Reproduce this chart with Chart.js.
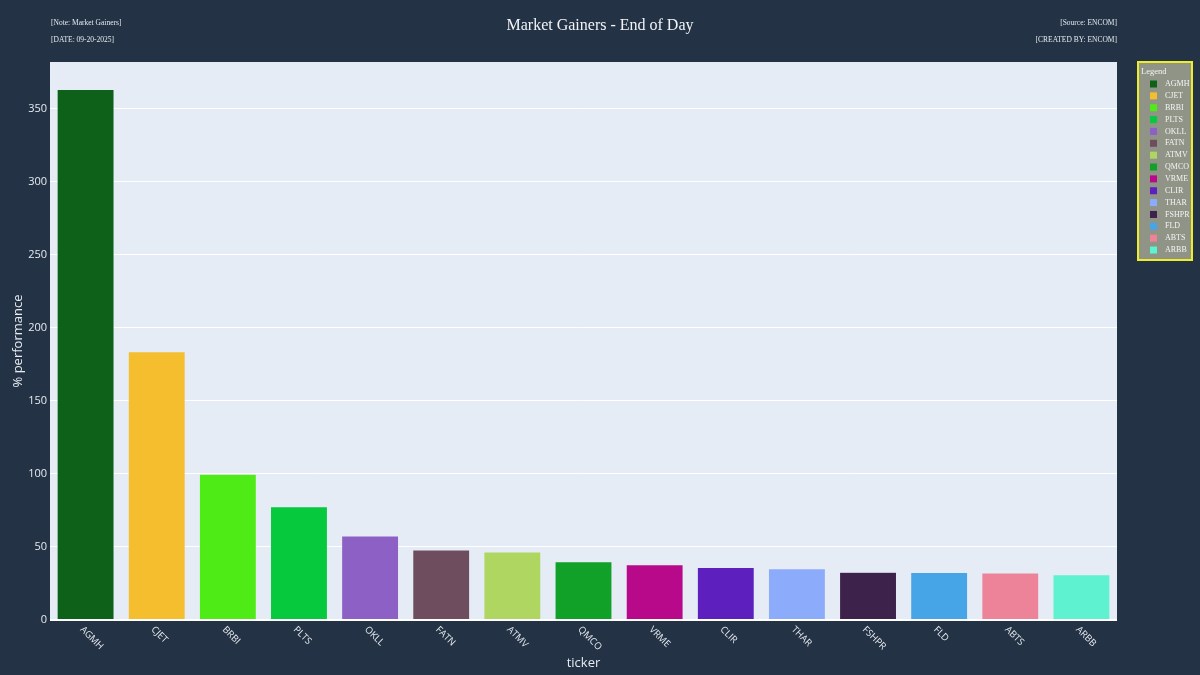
<!DOCTYPE html>
<html>
<head>
<meta charset="utf-8">
<title>Market Gainers - End of Day</title>
<script src="https://cdn.jsdelivr.net/npm/chart.js@4.4.1/dist/chart.umd.min.js"></script>
<style>
  html, body { margin: 0; padding: 0; background: #233245; }
  #wrap { width: 1200px; height: 675px; }
</style>
</head>
<body>
<div id="wrap"><canvas id="bars" width="1200" height="675"></canvas></div>
<script>
// values
const tickers = ["AGMH","CJET","BRBI","PLTS","OKLL","FATN","ATMV","QMCO","VRME","CLIR","THAR","FSHPR","FLD","ABTS","ARBB"];
const gains = [363.2, 183.6, 99.7, 77.6, 57.5, 47.9, 46.5, 39.9, 37.9, 35.9, 35.0, 32.7, 32.6, 32.2, 30.9];
const barColors = ["#0d6119","#f5be2f","#4feb16","#06c93d","#8d60c6","#6e4e5e","#aed660","#11a028","#b8098a","#5d20be","#8cabfa","#3d224b","#45a5e6","#ec8399","#5ef2d1"];
const yTop = 382;
const noteLeft = ["[Note: Market Gainers]", "[DATE: 09-20-2025]"];
const noteRight = ["[Source: ENCOM]", "[CREATED BY: ENCOM]"];

const pageBg = "#233245";
const plotBg = "#e5ecf6";
const inkLight = "#e6ebf0";

// background + header + custom rotated x labels + legend box
const decor = {
  id: "decor",
  beforeDraw(chart) {
    const c = chart.ctx, a = chart.chartArea;
    c.save();
    c.fillStyle = pageBg;
    c.fillRect(0, 0, chart.width, chart.height);
    c.fillStyle = plotBg;
    c.fillRect(a.left, a.top, a.right - a.left, a.bottom - a.top);
    c.restore();
  },
  afterDraw(chart) {
    const c = chart.ctx, a = chart.chartArea;
    const xs = chart.scales.x;
    c.save();

    // title and notes
    c.fillStyle = "#f2f4f7";
    c.font = "16px 'Liberation Serif', 'Times New Roman', serif";
    c.textAlign = "center";
    c.textBaseline = "middle";
    c.fillText("Market Gainers - End of Day", chart.width / 2, 26);

    c.font = "7.5px 'Liberation Serif', serif";
    c.fillStyle = inkLight;
    c.textAlign = "left";
    c.fillText(noteLeft[0], a.left + 1, 23);
    c.fillText(noteLeft[1], a.left + 1, 40);
    c.textAlign = "right";
    c.fillText(noteRight[0], a.right, 23);
    c.fillText(noteRight[1], a.right, 40);

    // x tick labels, rotated 45deg clockwise
    c.font = "9.5px 'Open Sans', sans-serif";
    c.fillStyle = inkLight;
    c.textAlign = "left";
    c.textBaseline = "middle";
    tickers.forEach((t, i) => {
      const px = xs.getPixelForTick(i);
      c.save();
      c.translate(px - 4, a.bottom + 8);
      c.rotate(Math.PI / 4);
      c.fillText(t, 0, 0);
      c.restore();
    });

    // legend
    const lx = 1138, ly = 62, lw = 54, lh = 198;
    c.fillStyle = "#8f9486";
    c.fillRect(lx, ly, lw, lh);
    c.strokeStyle = "#eded2a";
    c.lineWidth = 2;
    c.strokeRect(lx, ly, lw, lh);
    c.font = "8.5px 'Liberation Serif', serif";
    c.fillStyle = "#f4f4f4";
    c.textAlign = "left";
    c.textBaseline = "middle";
    c.fillText("Legend", lx + 3, ly + 10);
    c.font = "8px 'Liberation Serif', serif";
    tickers.forEach((t, i) => {
      const yy = ly + 22 + i * 11.86;
      c.fillStyle = barColors[i];
      c.fillRect(lx + 12, yy - 3.5, 7, 7);
      c.fillStyle = "#f4f4f4";
      c.fillText(t, lx + 27, yy);
    });
    c.restore();
  }
};

new Chart(document.getElementById("bars"), {
  type: "bar",
  data: {
    labels: tickers,
    datasets: [{
      label: "% performance",
      data: gains,
      backgroundColor: barColors,
      borderColor: plotBg,
      borderWidth: 0.5,
      barPercentage: 0.8,
      categoryPercentage: 1
    }]
  },
  options: {
    responsive: false,
    animation: false,
    layout: { padding: { top: 62, right: 83, left: 0, bottom: 0 } },
    plugins: {
      legend: { display: false },
      tooltip: { enabled: false }
    },
    scales: {
      x: {
        grid: { display: false },
        border: { display: false },
        ticks: { display: false },
        title: {
          display: true,
          text: "ticker",
          color: inkLight,
          font: { family: "'Open Sans', sans-serif", size: 13 },
          padding: { top: 0, bottom: 4 }
        },
        afterFit(s) { s.height = 55; }
      },
      y: {
        min: 0,
        max: yTop,
        grid: {
          color: "#ffffff",
          drawTicks: false,
          lineWidth: ctx => (ctx.tick && ctx.tick.value === 0 ? 2 : 1)
        },
        border: { display: false },
        ticks: {
          stepSize: 50,
          includeBounds: false,
          padding: 3,
          color: inkLight,
          font: { family: "'Open Sans', sans-serif", size: 11 }
        },
        title: {
          display: true,
          text: "% performance",
          color: inkLight,
          font: { family: "'Open Sans', sans-serif", size: 13 },
          padding: { top: 10, bottom: 0 }
        },
        afterFit(s) { s.width = 50; }
      }
    }
  },
  plugins: [decor]
});
</script>
</body>
</html>
